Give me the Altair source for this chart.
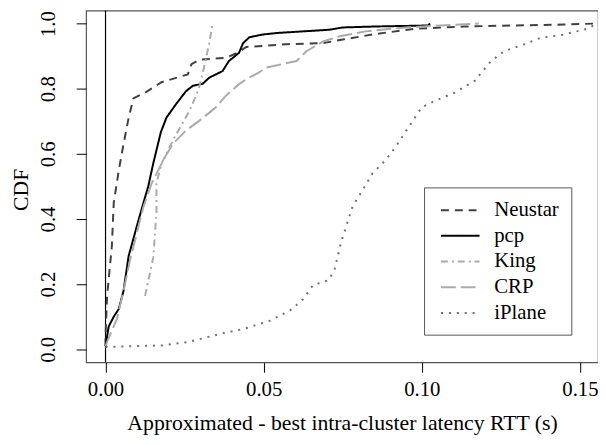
import altair as alt
import pandas as pd

# series names in legend order
names = ['Neustar', 'pcp', 'King', 'CRP', 'iPlane']

neustar_x = [0.0, 0.0, 0.0005, 0.002, 0.0026, 0.0042, 0.0057, 0.0073, 0.0088, 0.0129, 0.0177, 0.026,
             0.0272, 0.0297, 0.038, 0.0417, 0.0445, 0.0583, 0.0688, 0.075, 0.0854, 0.098, 0.1135, 0.1448, 0.155]
neustar_y = [0.01, 0.04, 0.164, 0.317, 0.45, 0.55, 0.63, 0.71, 0.77, 0.79, 0.82, 0.844,
             0.875, 0.889, 0.895, 0.91, 0.928, 0.937, 0.94, 0.951, 0.968, 0.984, 0.991, 0.997, 1.0]

pcp_x = [0.0, 0.001, 0.0026, 0.0042, 0.0057, 0.0073, 0.0099, 0.012, 0.0135, 0.0151, 0.0161, 0.0175,
         0.0193, 0.0224, 0.0255, 0.0276, 0.0307, 0.0328, 0.037, 0.039, 0.0422, 0.0435, 0.0455, 0.0495,
         0.0542, 0.0708, 0.075, 0.0854, 0.102, 0.1026]
pcp_y = [0.01, 0.07, 0.10, 0.124, 0.18, 0.286, 0.378, 0.45, 0.50, 0.571, 0.611, 0.667,
         0.712, 0.754, 0.793, 0.809, 0.815, 0.834, 0.854, 0.885, 0.91, 0.94, 0.958, 0.966,
         0.971, 0.981, 0.988, 0.991, 0.994, 1.0]

king_x = [0.0125, 0.0151, 0.0161, 0.0161, 0.0177, 0.0215, 0.0266, 0.0295, 0.0315, 0.0328, 0.0338]
king_y = [0.164, 0.282, 0.419, 0.51, 0.57, 0.645, 0.733, 0.80, 0.88, 0.94, 1.0]

crp_x = [0.0, 0.0005, 0.0036, 0.0057, 0.0078, 0.0094, 0.0099, 0.012, 0.0146, 0.0172, 0.0188, 0.0213,
         0.0255, 0.0297, 0.0349, 0.038, 0.0422, 0.0453, 0.0484, 0.051, 0.0604, 0.0635, 0.0688, 0.074,
         0.0823, 0.0948, 0.118]
crp_y = [0.01, 0.023, 0.093, 0.18, 0.276, 0.337, 0.358, 0.438, 0.51, 0.56, 0.59, 0.631,
         0.672, 0.702, 0.743, 0.778, 0.814, 0.834, 0.849, 0.865, 0.885, 0.915, 0.945, 0.961,
         0.976, 0.988, 1.0]

iplane_x = [0.0, 0.0177, 0.026, 0.0365, 0.0438, 0.052, 0.0583, 0.0625, 0.0656, 0.0705, 0.0724, 0.0745,
            0.0781, 0.0813, 0.0844, 0.0885, 0.0917, 0.0958, 0.10, 0.1042, 0.1104, 0.1167, 0.1219, 0.126,
            0.1323, 0.1375, 0.1448, 0.1531, 0.1547]
iplane_y = [0.007, 0.012, 0.022, 0.048, 0.063, 0.088, 0.119, 0.154, 0.197, 0.212, 0.245, 0.33,
            0.438, 0.489, 0.54, 0.58, 0.621, 0.682, 0.743, 0.763, 0.788, 0.824, 0.885, 0.915,
            0.936, 0.956, 0.966, 0.986, 0.998]

x_ticks = [0.0, 0.05, 0.10, 0.15]
y_ticks = [0.0, 0.2, 0.4, 0.6, 0.8, 1.0]

series = {'Neustar': (neustar_x, neustar_y), 'pcp': (pcp_x, pcp_y), 'King': (king_x, king_y),
          'CRP': (crp_x, crp_y), 'iPlane': (iplane_x, iplane_y)}
rows = []
for name in names:
    xs, ys = series[name]
    for i, (xv, yv) in enumerate(zip(xs, ys)):
        rows.append({'method': name, 'x': xv, 'y': yv, 'order': i})
df = pd.DataFrame(rows)

colors = ['#404040', '#000000', '#aaaaaa', '#aaaaaa', '#6e6e6e']
dashes = [[8, 6], [1, 0], [7, 4, 2, 4], [15, 5], [2, 6]]
font = 'Liberation Serif'

# short horizontal stroke as legend symbol (path is scaled by sqrt(size)/2)
legend = alt.Legend(
    title=None, orient='none', legendX=342, legendY=179,
    symbolType='M-0.6,0H3.4', symbolSize=380, symbolStrokeWidth=2, symbolFillColor='transparent',
    labelFont=font, labelFontSize=21, labelColor='black', labelOffset=37,
    rowPadding=5, padding=12, strokeColor='#555555', fillColor='white'
)

xscale = alt.Scale(domain=[-0.00615, 0.1557], nice=False, zero=False)
yscale = alt.Scale(domain=[-0.04, 1.04], nice=False, zero=False)

lines = alt.Chart(df).mark_line(strokeWidth=2, clip=True).encode(
    x=alt.X('x:Q', scale=xscale, axis=alt.Axis(
        title='Approximated - best intra-cluster latency RTT (s)', values=x_ticks, format='.2f',
        grid=False, domain=False, tickSize=10, tickColor='black', labelColor='black',
        labelFont=font, labelFontSize=21, labelPadding=24, labelBaseline='alphabetic',
        titleFont=font, titleFontSize=22, titleFontWeight='normal', titleColor='black',
        titleBaseline='alphabetic', titleY=68)),
    y=alt.Y('y:Q', scale=yscale, axis=alt.Axis(
        title='CDF', values=y_ticks, format='.1f',
        grid=False, domain=False, tickSize=10, tickColor='black', labelColor='black',
        labelFont=font, labelFontSize=21, labelPadding=22, labelAngle=270,
        labelAlign='center', labelBaseline='alphabetic',
        titleFont=font, titleFontSize=22, titleFontWeight='normal', titleColor='black',
        titleAngle=270, titleBaseline='alphabetic', titleAlign='center', titleX=-59, titleY=181)),
    color=alt.Color('method:N', scale=alt.Scale(domain=names, range=colors), legend=legend),
    strokeDash=alt.StrokeDash('method:N', scale=alt.Scale(domain=names, range=dashes), legend=legend),
    order='order:Q'
)

zero_line = alt.Chart(pd.DataFrame({'x': [0.0]})).mark_rule(color='black', strokeWidth=1.2).encode(
    x=alt.X('x:Q', scale=xscale)
)

chart = (zero_line + lines).properties(
    width=518, height=356,
    autosize=alt.AutoSizeParams(type='none'),
    padding={'left': 79, 'top': 0, 'right': 0, 'bottom': 73},
    background='white'
).configure_view(stroke='#555555', strokeWidth=1.2)

chart.save('out.html', embed_options={'renderer': 'svg', 'actions': False})
